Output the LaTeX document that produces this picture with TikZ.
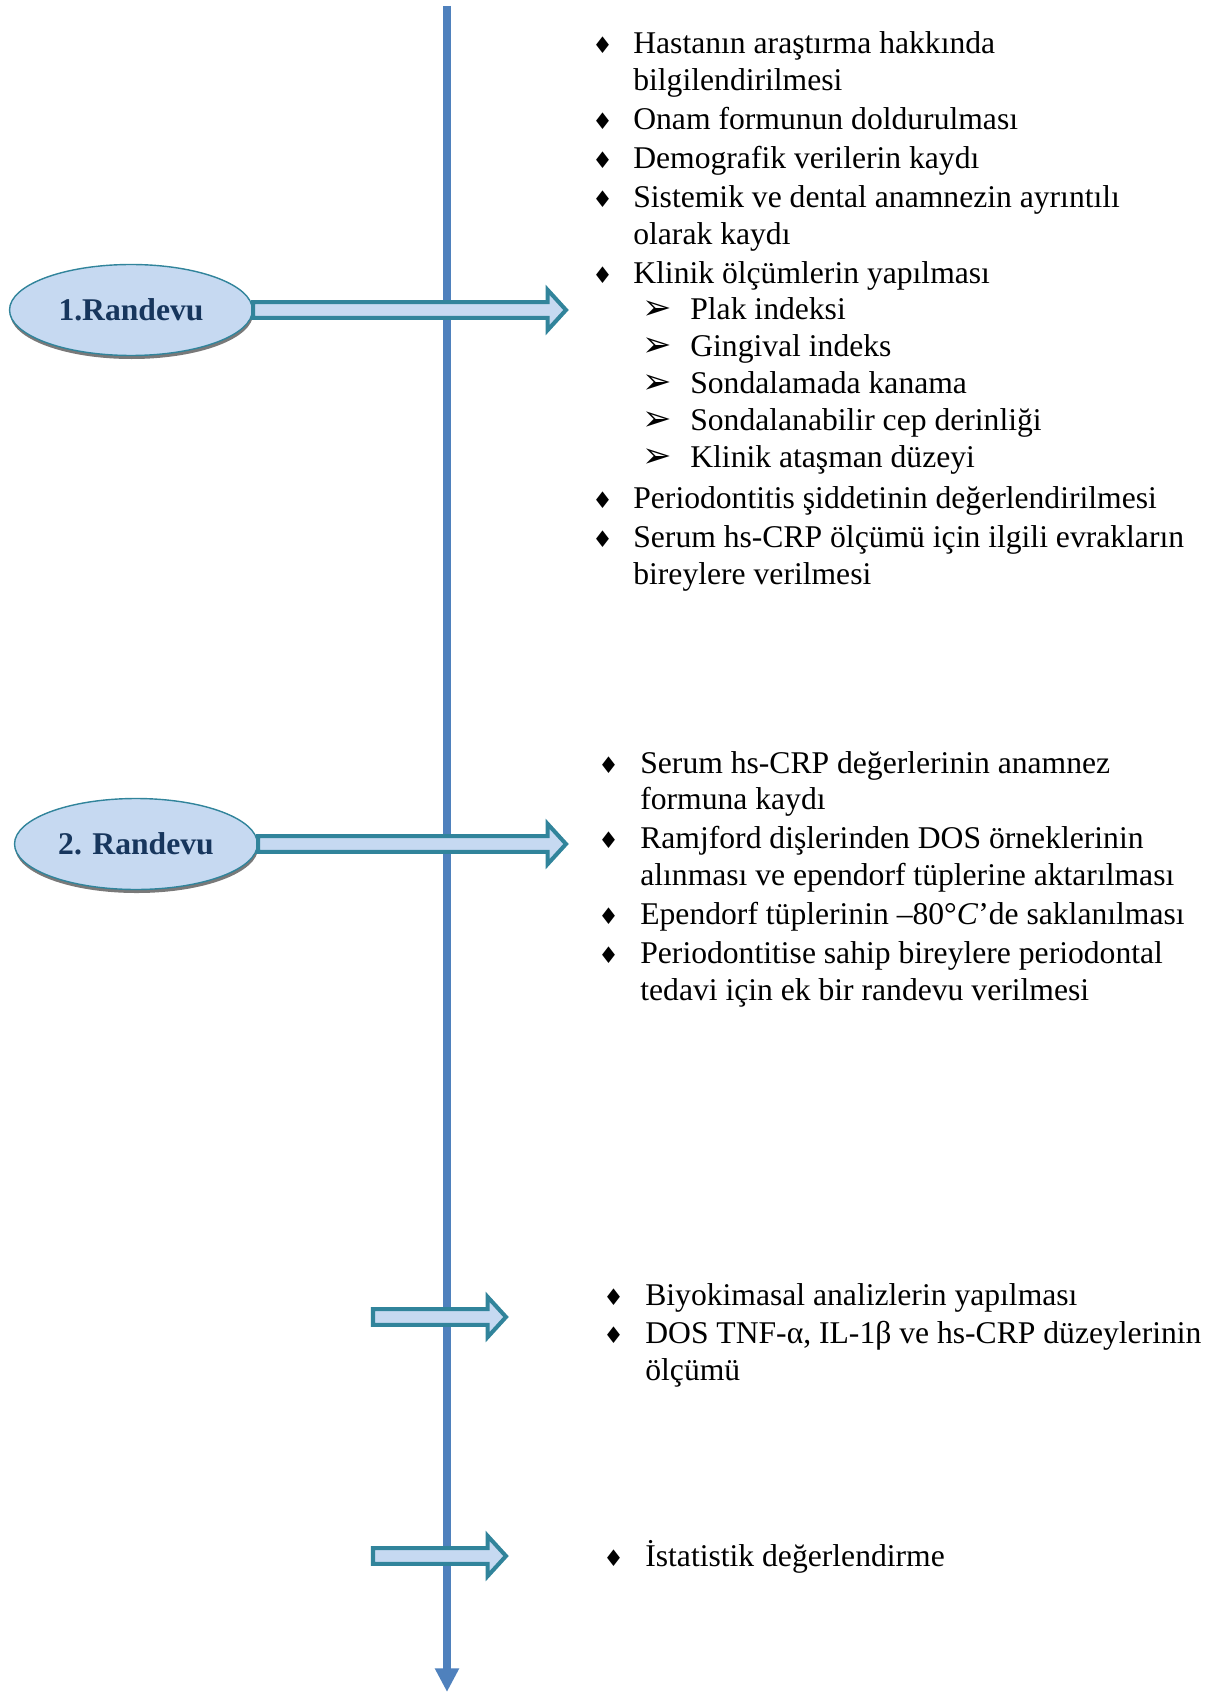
\documentclass[tikz,border=0pt]{standalone}
\usepackage{fontspec}
\setmainfont{Liberation Serif}
\newfontfamily\djv{DejaVu Sans}
\usepackage{tikz}
\usetikzlibrary{arrows.meta,calc,shapes.geometric,shadows}

\definecolor{lineblue}{HTML}{4F81BD}
\definecolor{arrteal}{HTML}{31849B}
\definecolor{arrfill}{HTML}{C6D9F1}
\definecolor{txtnavy}{HTML}{17365D}

\newcommand\dia{{\djv\fontsize{13}{13}\selectfont ♦}}
\newcommand\subit{\hspace{0.18cm}\makebox[0.96cm][l]{\djv\fontsize{20}{20}\selectfont ➢}}
% hollow block arrow from #1 to #2 (horizontal)
\newcommand\blockarrow[2]{%
  \draw[barrow] let \p1=(#1), \p2=(#2) in
    (\x1,\y1+4.5pt) -- (\x2-10.5pt,\y1+4.5pt) -- (\x2-10.5pt,\y1+11.5pt) -- (\x2,\y1)
    -- (\x2-10.5pt,\y1-11.5pt) -- (\x2-10.5pt,\y1-4.5pt) -- (\x1,\y1-4.5pt) -- cycle;}

\begin{document}
\begin{tikzpicture}[x=0.02cm, y=-0.02cm,
  randevu/.style={ellipse, draw=arrteal, line width=0.8pt, fill=arrfill, minimum width=4.86cm, minimum height=1.82cm, inner sep=0pt, font=\fontsize{18}{21}\selectfont\bfseries, text=txtnavy, drop shadow={shadow xshift=0.4pt, shadow yshift=-2pt, fill=black!75, opacity=0.7}},
  barrow/.style={draw=arrteal, fill=arrfill, line width=2.3pt, line join=miter},
  vline/.style={draw=lineblue, line width=4.5pt, -{Triangle[width=13pt, length=13.5pt]}},
  liste/.style={anchor=base west, inner sep=0pt, font=\fontsize{18}{21}\selectfont},
]
\useasboundingbox (0,0) rectangle (1229,1692);

% time line
\coordinate (top) at (447,6);
\coordinate (bottom) at (447,1692);
\draw[vline] (top) -- (bottom);

\node[randevu] (e1) at (131,310) {1.Randevu};
\node[randevu] (e2) at (136,844) {2. Randevu};

\coordinate (t1) at (566,310);
\coordinate (t2) at (566,844);
\coordinate (a3) at (373,1317);
\coordinate (t3) at (506,1317);
\coordinate (a4) at (373,1556);
\coordinate (t4) at (506,1556);

\blockarrow{e1.east}{t1}
\blockarrow{e2.east}{t2}
\blockarrow{a3}{t3}
\blockarrow{a4}{t4}

\node[liste] (b1) at (592,54) {\begin{tabular}[t]{@{}p{0.82cm}@{}l@{}}
\dia & Hastanın araştırma hakkında\\
 & bilgilendirilmesi\\[1.1pt]
\dia & Onam formunun doldurulması\\[1.1pt]
\dia & Demografik verilerin kaydı\\[1.1pt]
\dia & Sistemik ve dental anamnezin ayrıntılı\\
 & olarak kaydı\\[1.1pt]
\dia & Klinik ölçümlerin yapılması\\
 & \subit Plak indeksi\\
 & \subit Gingival indeks\\
 & \subit Sondalamada kanama\\
 & \subit Sondalanabilir cep derinliği\\
 & \subit Klinik ataşman düzeyi\\[2.3pt]
\dia & Periodontitis şiddetinin değerlendirilmesi\\[1.1pt]
\dia & Serum hs-CRP ölçümü için ilgili evrakların\\
 & bireylere verilmesi
\end{tabular}};

\node[liste] (b2) at (598,773) {\begin{tabular}[t]{@{}p{0.84cm}@{}l@{}}
\dia & Serum hs-CRP değerlerinin anamnez\\
 & formuna kaydı\\[1.1pt]
\dia & Ramjford dişlerinden DOS örneklerinin\\
 & alınması ve ependorf tüplerine aktarılması\\[1.1pt]
\dia & Ependorf tüplerinin –80°\textit{C}’de saklanılması\\[1.1pt]
\dia & Periodontitise sahip bireylere periodontal\\
 & tedavi için ek bir randevu verilmesi
\end{tabular}};

\node[liste] (b3) at (603,1305) {\begin{tabular}[t]{@{}p{0.84cm}@{}l@{}}
\dia & Biyokimasal analizlerin yapılması\\[1.1pt]
\dia & DOS TNF-α, IL-1β ve hs-CRP düzeylerinin\\
 & ölçümü
\end{tabular}};

\node[liste] (b4) at (603,1566) {\begin{tabular}[t]{@{}p{0.84cm}@{}l@{}}
\dia & İstatistik değerlendirme
\end{tabular}};
\end{tikzpicture}
\end{document}
